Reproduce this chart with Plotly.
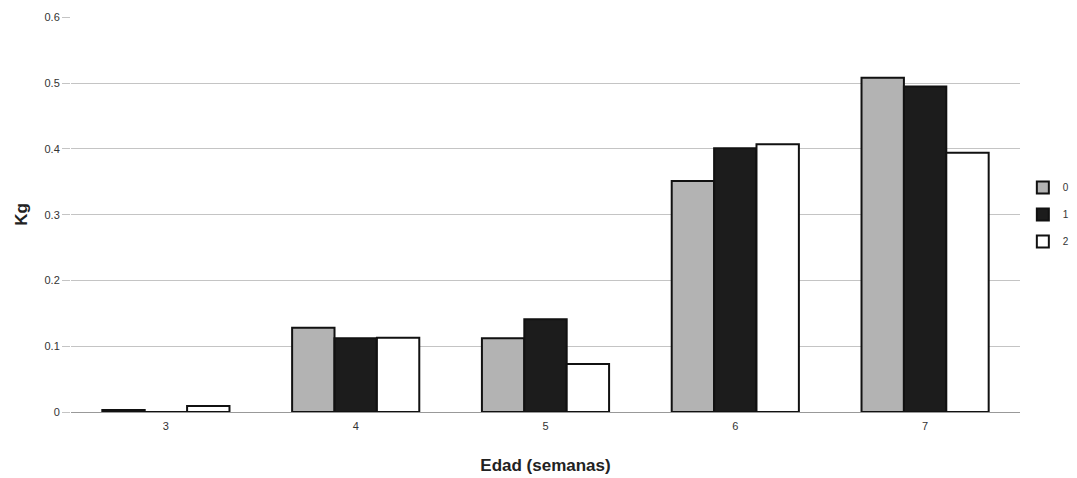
import plotly.graph_objects as go

weeks = ["3", "4", "5", "6", "7"]
serie_0 = [0.003, 0.128, 0.112, 0.351, 0.508]
serie_1 = [0.0, 0.112, 0.141, 0.401, 0.495]
serie_2 = [0.009, 0.113, 0.073, 0.407, 0.394]
names = ["0", "1", "2"]
colors = ["#b3b3b3", "#1c1c1c", "#ffffff"]

fig = go.Figure()
for name, vals, col in zip(names, [serie_0, serie_1, serie_2], colors):
    fig.add_trace(go.Bar(
        x=weeks, y=vals, name=name, legendgroup=name,
        marker=dict(color=col, line=dict(color="#111111", width=2)),
    ))

fig.update_layout(
    width=1077, height=478,
    margin=dict(l=71, r=57, t=17, b=66, autoexpand=False),
    paper_bgcolor="white", plot_bgcolor="white",
    barmode="group", bargap=0.33, bargroupgap=0,
    font=dict(family="Arial, Liberation Sans, sans-serif", color="#333333"),
    legend=dict(x=1.003, y=0.5, xanchor="left", yanchor="middle",
                font=dict(size=10), itemwidth=30, tracegroupgap=8,
                bgcolor="rgba(0,0,0,0)"),
    xaxis=dict(
        type="category", showgrid=False, ticks="outside", ticklen=4,
        tickcolor="rgba(0,0,0,0)", tickfont=dict(size=11),
        title=dict(text="<b>Edad (semanas)</b>", font=dict(size=17, color="#222222"), standoff=27),
        showline=False,
    ),
    yaxis=dict(
        range=[0, 0.6005], tickvals=[0, 0.1, 0.2, 0.3, 0.4, 0.5, 0.6],
        ticktext=["0", "0.1", "0.2", "0.3", "0.4", "0.5", "0.6"],
        tickfont=dict(size=11),
        showgrid=True, gridcolor="#c4c4c4", gridwidth=1,
        zeroline=True, zerolinecolor="#999999", zerolinewidth=1,
        ticks="outside", ticklen=8, tickcolor="#c4c4c4",
        title=dict(text="<b>Kg</b>", font=dict(size=17, color="#222222"), standoff=12),
        showline=False,
    ),
)

fig.write_html("out.html")
